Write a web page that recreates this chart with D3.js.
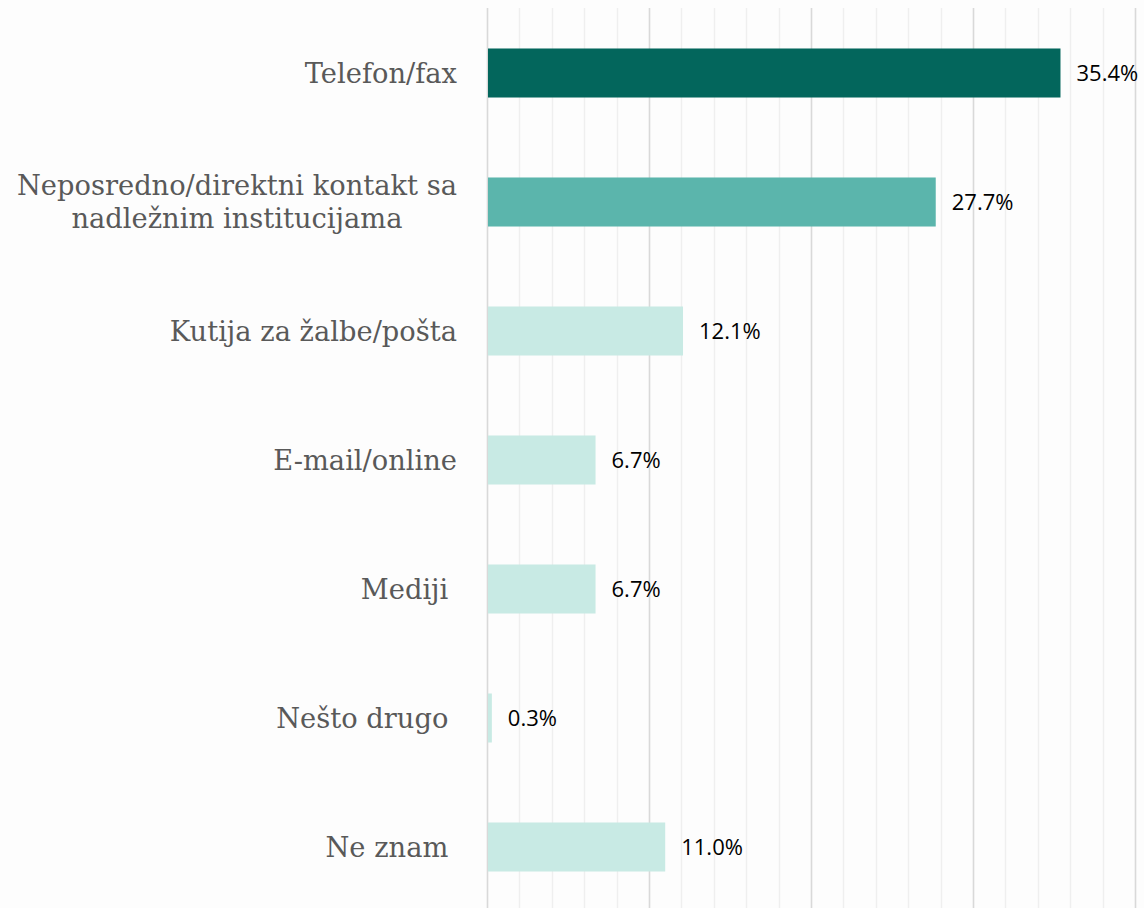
<!DOCTYPE html>
<html>
<head>
<meta charset="utf-8">
<script src="https://cdn.jsdelivr.net/npm/d3@7"></script>
<style>
  html, body { margin: 0; padding: 0; background: #fdfdfd; }
  svg { display: block; }
</style>
</head>
<body>
<div id="chart"></div>
<script>
// categories and values
var categories = ["Telefon/fax", "Neposredno/direktni kontakt sa|nadležnim institucijama", "Kutija za žalbe/pošta", "E-mail/online", "Mediji ", "Nešto drugo ", "Ne znam "];
var values = [35.4, 27.7, 12.1, 6.7, 6.7, 0.3, 11.0];
var barColors = ["#03665c", "#5bb5ac", "#c8eae4", "#c8eae4", "#c8eae4", "#c8eae4", "#c8eae4"];
var gridTicks = d3.range(0, 42, 2); // minor every 2%, major every 10%

var width = 1144, height = 908;
var plotLeft = 487, plotRight = 1135, plotTop = 8.5, plotBottom = 911.5;
var labelRight = 457;

var svg = d3.select("#chart").append("svg")
    .attr("width", width)
    .attr("height", height);

var x = d3.scaleLinear().domain([0, 40]).range([plotLeft, plotRight]);
var y = d3.scaleBand().domain(categories).range([plotTop, plotBottom]).paddingInner(0.62).paddingOuter(0.31);

// gridlines
svg.append("g").selectAll("line")
    .data(gridTicks)
    .enter().append("line")
    .attr("x1", function(d) { return Math.round(x(d)) + 0.5; })
    .attr("x2", function(d) { return Math.round(x(d)) + 0.5; })
    .attr("y1", 8)
    .attr("y2", height)
    .attr("stroke", function(d) { return d % 10 === 0 ? "#d9d9d9" : "#efefef"; })
    .attr("stroke-width", function(d) { return d % 10 === 0 ? 1.6 : 1.4; });

// bars
svg.append("g").selectAll("rect")
    .data(values)
    .enter().append("rect")
    .attr("x", x(0) + 1)
    .attr("y", function(d, i) { return y(categories[i]); })
    .attr("width", function(d) { return x(d) - x(0) - 1; })
    .attr("height", y.bandwidth())
    .attr("fill", function(d, i) { return barColors[i]; });

// value labels
svg.append("g").selectAll("text")
    .data(values)
    .enter().append("text")
    .attr("x", function(d) { return x(d) + 16; })
    .attr("y", function(d, i) { return y(categories[i]) + y.bandwidth() / 2; })
    .attr("dy", "0.36em")
    .attr("font-family", "'Open Sans', 'Noto Sans', sans-serif")
    .attr("font-size", 22)
    .attr("fill", "#000")
    .text(function(d) { return d.toFixed(1) + "%"; });

// category labels (multi-line ones are centred as a block, right edge at labelRight)
var labels = svg.append("g").selectAll("text")
    .data(categories)
    .enter().append("text")
    .attr("y", function(d) { return y(d) + y.bandwidth() / 2; })
    .attr("font-family", "'DejaVu Serif', serif")
    .attr("font-size", 27.3)
    .attr("fill", "#595959")
    .style("white-space", "pre");

labels.each(function(d) {
    var lines = d.split("|");
    var t = d3.select(this);
    var spans = lines.map(function(line, k) {
        return t.append("tspan")
            .attr("dy", k === 0 ? (0.35 - (lines.length - 1) * 0.62) + "em" : "1.24em")
            .text(line);
    });
    if (lines.length === 1) {
        t.attr("text-anchor", "end");
        spans[0].attr("x", labelRight);
    } else {
        var maxW = d3.max(spans, function(s) { return s.node().getComputedTextLength(); });
        t.attr("text-anchor", "middle");
        spans.forEach(function(s) { s.attr("x", labelRight - maxW / 2); });
    }
});
</script>
</body>
</html>
